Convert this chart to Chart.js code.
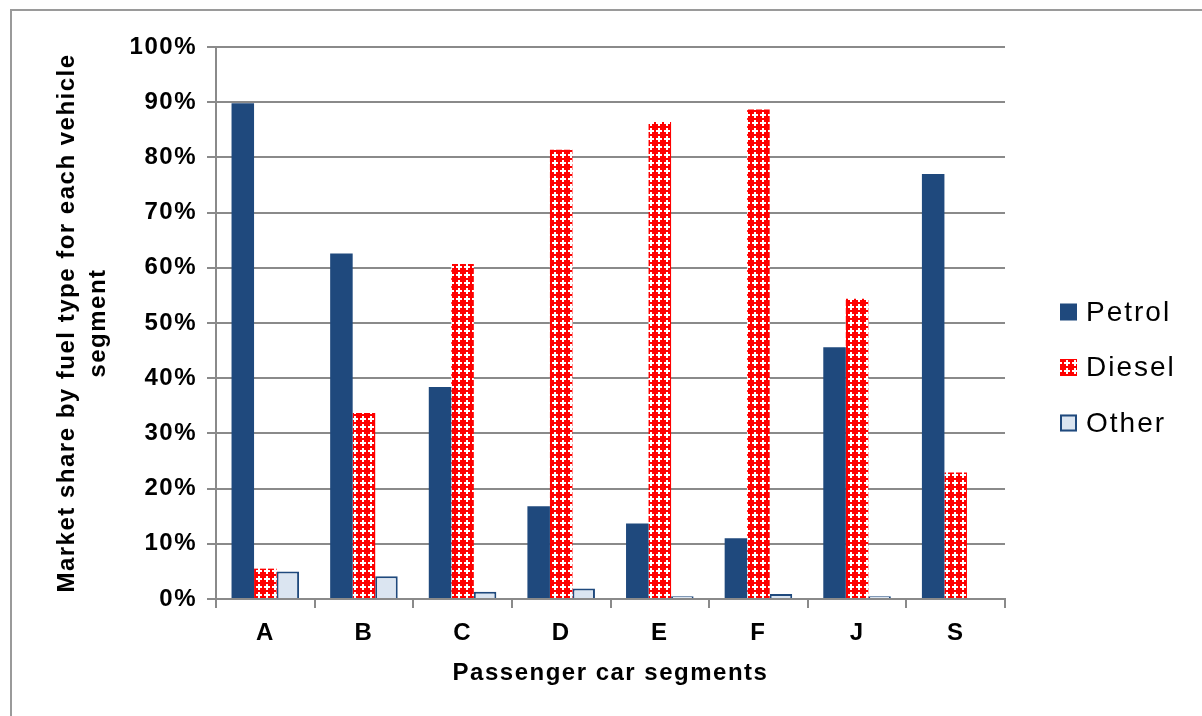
<!DOCTYPE html>
<html>
<head>
<meta charset="utf-8">
<title>Market share by fuel type per passenger car segment</title>
<script src="https://cdn.jsdelivr.net/npm/chart.js@4.4.1/dist/chart.umd.min.js"></script>
<style>
  html, body { margin: 0; padding: 0; background: #ffffff; }
  #wrap { width: 1202px; height: 716px; position: relative; }
</style>
</head>
<body>
<div id="wrap"><canvas id="chart" width="1202" height="716"></canvas></div>
<script>
// Passenger car segments and the share (%) of each fuel type within them
const segments = ['A', 'B', 'C', 'D', 'E', 'F', 'J', 'S'];
const petrolShare = [89.8, 62.6, 38.4, 16.8, 13.7, 11.0, 45.6, 77.0];
const dieselShare = [5.5, 33.7, 60.7, 81.4, 86.4, 88.7, 54.4, 22.9];
const otherShare  = [5.0, 4.1, 1.3, 1.9, 0.5, 0.9, 0.5, 0.0];
const percentTicks = [0, 10, 20, 30, 40, 50, 60, 70, 80, 90, 100];

const FONT = "'Liberation Sans', Arial, sans-serif";
const GRID = '#8a8a8a';
const NAVY = '#1f497d';

// Red fill with small white crosses for the diesel bars
function makeDieselPattern() {
  const c = document.createElement('canvas');
  c.width = 8; c.height = 8;
  const g = c.getContext('2d');
  g.fillStyle = '#ff0000';
  g.fillRect(0, 0, 8, 8);
  g.fillStyle = '#ffffff';
  const cells = [
    [0, 1, 0, 0],
    [1, 1, 1, 0],
    [0, 1, 0, 0],
    [0, 0, 0, 0]
  ];
  for (let r = 0; r < 4; r++) {
    for (let k = 0; k < 4; k++) {
      if (cells[r][k]) g.fillRect(k * 2, r * 2, 2, 2);
    }
  }
  return g.createPattern(c, 'repeat');
}
const dieselFill = makeDieselPattern();

// Slightly spread lettering used throughout the chart
const spacingPlugin = {
  id: 'spacing',
  beforeLayout(chart) { chart.ctx.letterSpacing = '1.5px'; },
  beforeDraw(chart) { chart.ctx.letterSpacing = '1.5px'; }
};

// Grey outline framing the whole chart
const framePlugin = {
  id: 'frame',
  beforeDraw(chart) {
    const ctx = chart.ctx;
    ctx.save();
    ctx.strokeStyle = '#9a9a9a';
    ctx.lineWidth = 2;
    ctx.strokeRect(11, 10, chart.width + 20, chart.height + 20);
    ctx.restore();
  }
};

// Legend to the right of the plot, one row per dataset
const sideLegend = {
  id: 'sideLegend',
  afterDraw(chart) {
    const ctx = chart.ctx;
    const area = chart.chartArea;
    const x0 = area.right + 55;
    const yStart = 312;
    const rowGap = 55.5;
    const box = 17;
    ctx.save();
    ctx.letterSpacing = '2px';
    ctx.font = '28px ' + FONT;
    ctx.textBaseline = 'middle';
    ctx.textAlign = 'left';
    chart.data.datasets.forEach((ds, i) => {
      const y = yStart + i * rowGap;
      ctx.fillStyle = ds.backgroundColor;
      ctx.fillRect(x0, y - box / 2, box, box);
      if (ds.legendBorder) {
        ctx.strokeStyle = ds.borderColor;
        ctx.lineWidth = 2;
        ctx.strokeRect(x0 + 1, y - box / 2 + 1, box - 2, box - 2);
      }
      ctx.fillStyle = '#000000';
      ctx.fillText(ds.label, x0 + 26, y + 1);
    });
    ctx.restore();
  }
};

new Chart(document.getElementById('chart'), {
  type: 'bar',
  data: {
    labels: segments,
    datasets: [
      { label: 'Petrol', data: petrolShare, backgroundColor: NAVY, borderWidth: 0 },
      { label: 'Diesel', data: dieselShare, backgroundColor: dieselFill, borderWidth: 0 },
      { label: 'Other', data: otherShare, backgroundColor: '#dbe5f1', borderColor: NAVY, borderWidth: 2, legendBorder: true }
    ]
  },
  options: {
    responsive: false,
    animation: false,
    events: [],
    categoryPercentage: 0.685,
    barPercentage: 1.0,
    layout: { padding: { left: 0, right: 197, top: 47, bottom: 0 } },
    plugins: {
      legend: { display: false },
      tooltip: { enabled: false }
    },
    scales: {
      x: {
        grid: {
          offset: true,
          drawOnChartArea: false,
          drawTicks: true,
          tickLength: 9,
          color: GRID,
          lineWidth: 2
        },
        border: { display: true, color: GRID, width: 2 },
        ticks: {
          color: '#000000',
          padding: 11,
          font: { family: FONT, size: 24, weight: 'bold' }
        },
        title: {
          display: true,
          text: 'Passenger car segments',
          color: '#000000',
          font: { family: FONT, size: 24, weight: 'bold', lineHeight: 1.25 },
          padding: { top: 0, bottom: 28 }
        },
        afterFit(scale) { scale.height = 117; }
      },
      y: {
        min: 0,
        max: 100,
        afterBuildTicks(scale) {
          scale.ticks = percentTicks.map(v => ({ value: v }));
        },
        grid: {
          color: GRID,
          lineWidth: 2,
          drawTicks: true,
          tickLength: 9
        },
        border: { display: true, color: GRID, width: 2 },
        ticks: {
          color: '#000000',
          padding: 10,
          font: { family: FONT, size: 24, weight: 'bold' },
          callback: v => v + '%'
        },
        title: {
          display: true,
          text: ['Market share by fuel type for each vehicle', 'segment'],
          color: '#000000',
          font: { family: FONT, size: 24, weight: 'bold', lineHeight: 1.3 },
          padding: { top: 52, bottom: 0 }
        },
        afterFit(scale) { scale.width = 216; }
      }
    }
  },
  plugins: [spacingPlugin, framePlugin, sideLegend]
});
</script>
</body>
</html>
